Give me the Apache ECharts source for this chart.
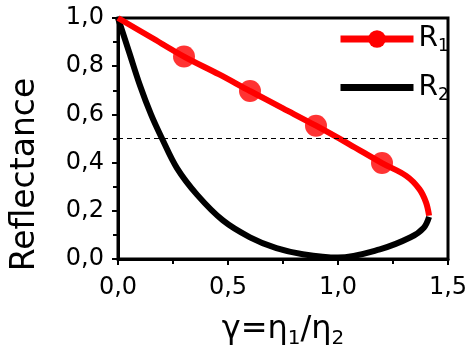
<!DOCTYPE html>
<html>
<head>
<meta charset="utf-8">
<script src="https://cdn.jsdelivr.net/npm/echarts@6/dist/echarts.min.js"></script>
<style>
  html, body { margin: 0; padding: 0; background: #fff; }
  #chart { width: 472px; height: 354px; }
</style>
</head>
<body>
<div id="chart"></div>
<script>
// R1 curve
const r1Gamma = [0, 0.15, 0.3, 0.46, 0.6, 0.75, 0.9, 1.05, 1.2, 1.31, 1.37, 1.40, 1.414];
const r1Values = [1.0, 0.92, 0.84, 0.766, 0.697, 0.625, 0.553, 0.477, 0.398, 0.345, 0.29, 0.235, 0.18];
// R1 markers
const markGamma = [0.3, 0.6, 0.9, 1.2];
const markValues = [0.84, 0.697, 0.553, 0.398];
// R2 curve
const r2Gamma = [0, 0.05, 0.1, 0.15, 0.2, 0.268, 0.36, 0.477, 0.6, 0.72, 0.84, 1.0, 1.19, 1.33, 1.39, 1.414];
const r2Values = [1.0, 0.86, 0.72, 0.6, 0.5, 0.377, 0.266, 0.16, 0.09, 0.045, 0.02, 0.006, 0.04, 0.09, 0.13, 0.175];
const refLine = 0.5;

const font = "DejaVu Sans";
const comma = v => v.toFixed(1).replace(".", ",");
const pairs = (xs, ys) => xs.map((x, i) => [x, ys[i]]);

const chart = echarts.init(document.getElementById("chart"));
chart.setOption({
  animation: false,
  grid: {
    left: 118, right: 24, top: 18, bottom: 92,
    show: true, borderColor: "#000", borderWidth: 3
  },
  legend: {
    data: ["R1", { name: "R2", itemStyle: { opacity: 0 } }],
    orient: "vertical",
    left: 332, top: 20,
    itemWidth: 73, itemHeight: 22, itemGap: 18,
    lineStyle: { width: 7 },
    formatter: name => "{b|R}{s|" + name.slice(1) + "}",
    textStyle: {
      rich: {
        b: { fontFamily: font, fontSize: 28, color: "#000" },
        s: { fontFamily: font, fontSize: 17, color: "#000", padding: [16, 0, 0, 0] }
      }
    }
  },
  xAxis: {
    type: "value", min: 0, max: 1.5, interval: 0.5,
    name: "{g|γ=η}{s|1}{g|/η}{s|2}",
    nameLocation: "middle", nameGap: 52,
    nameTextStyle: {
      rich: {
        g: { fontFamily: font, fontSize: 32, color: "#000" },
        s: { fontFamily: font, fontSize: 20, color: "#000", padding: [18, 0, 0, 0] }
      }
    },
    axisLine: { lineStyle: { color: "#000", width: 3 } },
    axisTick: { length: 6, lineStyle: { width: 2 } },
    minorTick: { show: true, splitNumber: 2, length: 5, lineStyle: { color: "#000", width: 2 } },
    splitLine: { show: false },
    axisLabel: { fontFamily: font, fontSize: 24, color: "#000", margin: 17, formatter: comma }
  },
  yAxis: {
    type: "value", min: 0, max: 1, interval: 0.2,
    name: "Reflectance",
    nameLocation: "middle", nameGap: 76,
    nameTextStyle: { fontFamily: font, fontSize: 33, color: "#000", padding: [0, 72, 0, 0] },
    axisLine: { show: true, lineStyle: { color: "#000", width: 3 } },
    axisTick: { show: true, length: 6, lineStyle: { width: 2 } },
    minorTick: { show: true, splitNumber: 2, length: 5, lineStyle: { color: "#000", width: 2 } },
    splitLine: { show: false },
    axisLabel: { fontFamily: font, fontSize: 24, color: "#000", margin: 14, formatter: comma }
  },
  series: [
    {
      name: "R2", type: "line", smooth: 0.35,
      data: pairs(r2Gamma, r2Values),
      symbol: "none",
      lineStyle: { color: "#000", width: 6 },
      itemStyle: { color: "#000" },
      markLine: {
        silent: true, symbol: "none", label: { show: false },
        lineStyle: { color: "#000", width: 1, type: [5, 4] },
        data: [{ yAxis: refLine }]
      }
    },
    {
      name: "R1", type: "line", smooth: 0.35,
      data: pairs(r1Gamma, r1Values),
      symbol: "circle", symbolSize: 22, showSymbol: false,
      lineStyle: { color: "#ff0000", width: 6 },
      itemStyle: { color: "#ff0000" }
    },
    {
      name: "R1", type: "scatter",
      data: pairs(markGamma, markValues),
      symbol: "circle", symbolSize: 22,
      itemStyle: { color: "#ff0000" }
    }
  ]
});
</script>
</body>
</html>
